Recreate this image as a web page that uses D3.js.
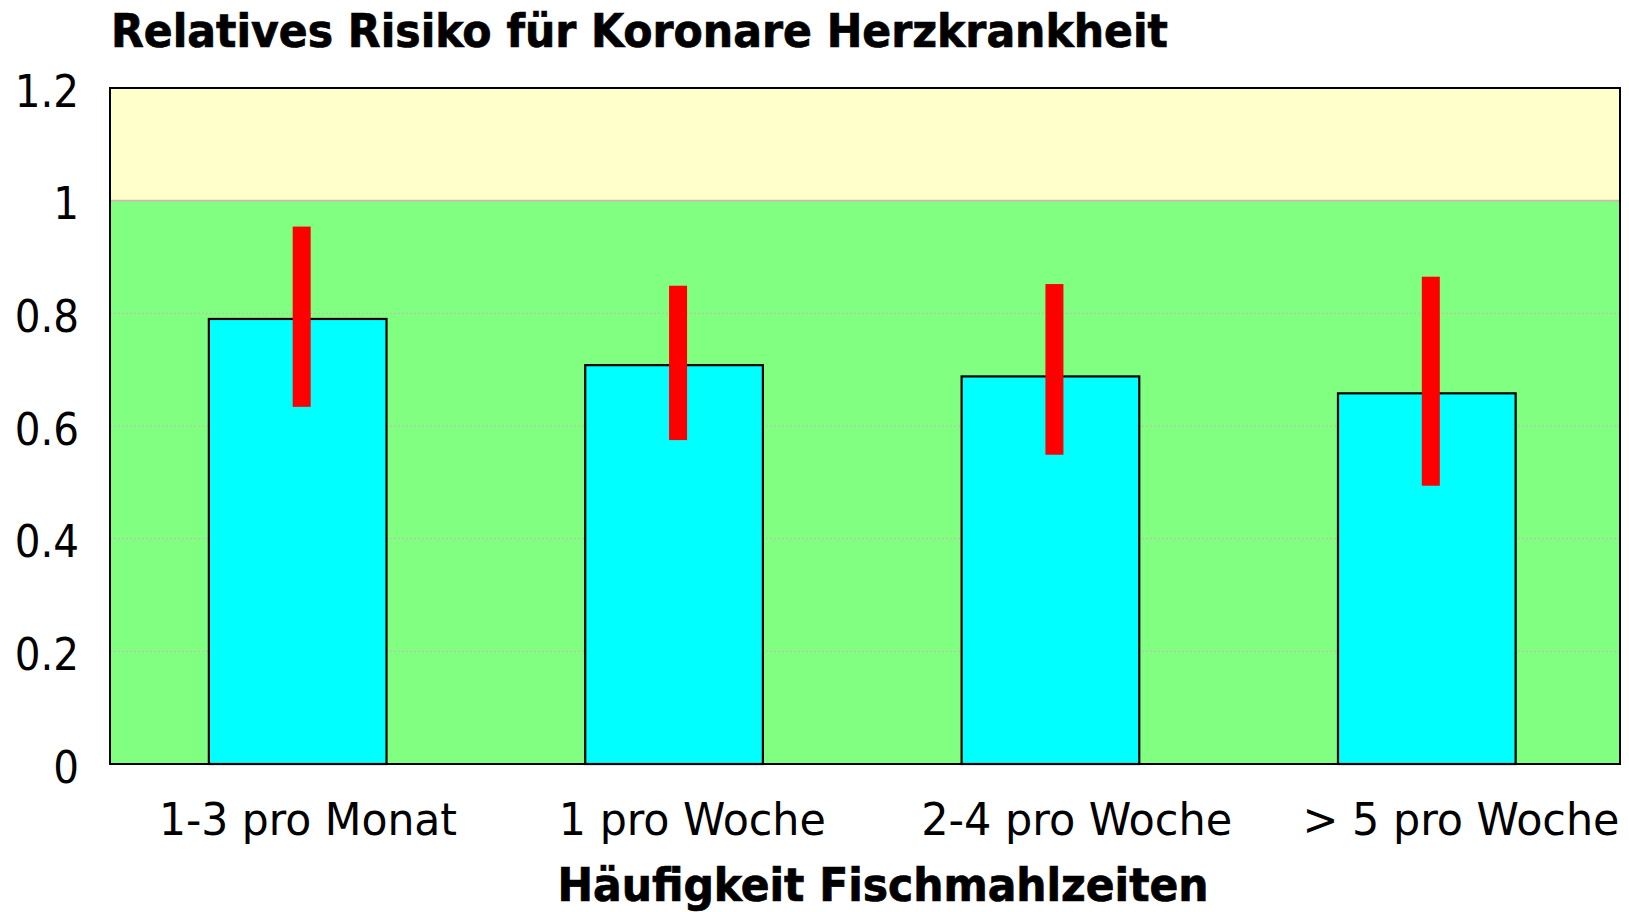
<!DOCTYPE html>
<html>
<head>
    <meta charset='utf-8' />
    <title>Relatives Risiko</title>
    <style>
        html, body {
          margin: 0; padding: 0;
          background: #fff;
        }

        svg text {
          font-family: 'DejaVu Sans Condensed', 'DejaVu Sans', sans-serif;
          fill: #000;
        }

        .bold {
          font-weight: bold;
          stroke: #000;
          stroke-width: 0.7px;
        }

        .grid line {
          stroke: #c9b7b7;
          stroke-width: 1;
          stroke-dasharray: 2,2;
        }
    </style>
</head>
<body>

<div id='chart'></div>

<script src="https://cdnjs.cloudflare.com/ajax/libs/d3/7.8.5/d3.min.js"></script>
<script>
  // data
  const categories = ['1-3 pro Monat', '1 pro Woche', '2-4 pro Woche', '> 5 pro Woche']
  const relRisk = [0.79, 0.708, 0.688, 0.658]
  const ciLow = [0.634, 0.575, 0.549, 0.494]
  const ciHigh = [0.954, 0.849, 0.852, 0.865]
  const yTicks = [0, 0.2, 0.4, 0.6, 0.8, 1, 1.2]

  const rows = categories.map((c, i) => ({
    cat: c, value: relRisk[i], lo: ciLow[i], hi: ciHigh[i]
  }))

  const W = 1629
  const H = 912
  const plot = { left: 110, right: 1620, top: 88, bottom: 764 }

  const svg = d3.select('#chart').append('svg')
    .attr('width', W)
    .attr('height', H)

  const y = d3.scaleLinear()
    .domain([0, 1.2])
    .range([plot.bottom, plot.top])

  const x = d3.scaleBand()
    .domain(categories)
    .range([111, 1613.5])
    .paddingInner(0.528)
    .paddingOuter(0.26)

  // category labels sit a bit off the bar centres in the original
  const xLabel = d3.scalePoint()
    .domain(categories)
    .range([308, 1461])

  // background bands: above 1 = higher risk, below 1 = lower risk
  svg.append('rect')
    .attr('x', plot.left)
    .attr('y', y(1.2))
    .attr('width', plot.right - plot.left)
    .attr('height', y(1) - y(1.2))
    .style('fill', '#ffffcc')

  svg.append('rect')
    .attr('x', plot.left)
    .attr('y', y(1))
    .attr('width', plot.right - plot.left)
    .attr('height', y(0) - y(1))
    .style('fill', '#80ff80')

  // dotted gridlines
  svg.append('g')
    .attr('class', 'grid')
    .selectAll('line')
    .data(yTicks.filter(d => d > 0 && d < 1))
    .enter()
    .append('line')
    .attr('x1', plot.left)
    .attr('x2', plot.right)
    .attr('y1', d => y(d))
    .attr('y2', d => y(d))

  svg.append('line')
    .attr('x1', plot.left)
    .attr('x2', plot.right)
    .attr('y1', y(1))
    .attr('y2', y(1))
    .style('stroke', '#c4c2a4')
    .style('stroke-width', 2)

  // bars
  svg.append('g')
    .selectAll('rect')
    .data(rows)
    .enter()
    .append('rect')
    .attr('x', d => x(d.cat))
    .attr('y', d => y(d.value))
    .attr('width', x.bandwidth())
    .attr('height', d => y(0) - y(d.value))
    .style('fill', '#00ffff')
    .style('stroke', '#000')
    .style('stroke-width', 2.2)

  // confidence intervals
  const errW = 18
  svg.append('g')
    .selectAll('rect')
    .data(rows)
    .enter()
    .append('rect')
    .attr('x', d => x(d.cat) + x.bandwidth() / 2 + 4 - errW / 2)
    .attr('y', d => y(d.hi))
    .attr('width', errW)
    .attr('height', d => y(d.lo) - y(d.hi))
    .style('fill', '#ff0000')

  // plot frame
  svg.append('rect')
    .attr('x', plot.left)
    .attr('y', plot.top)
    .attr('width', plot.right - plot.left)
    .attr('height', plot.bottom - plot.top)
    .style('fill', 'none')
    .style('stroke', '#000')
    .style('stroke-width', 2)

  // y tick labels
  svg.append('g')
    .selectAll('text')
    .data(yTicks)
    .enter()
    .append('text')
    .attr('x', 79)
    .attr('y', d => y(d) + 18.5)
    .attr('text-anchor', 'end')
    .style('font-size', '45px')
    .text(d => String(d))

  // x category labels
  svg.append('g')
    .selectAll('text')
    .data(categories)
    .enter()
    .append('text')
    .attr('x', d => xLabel(d))
    .attr('y', 835)
    .attr('text-anchor', 'middle')
    .style('font-size', '44px')
    .text(d => d)

  // title and axis title
  svg.append('text')
    .attr('class', 'bold')
    .attr('x', 111)
    .attr('y', 47)
    .attr('textLength', 1057)
    .attr('lengthAdjust', 'spacingAndGlyphs')
    .style('font-size', '47px')
    .text('Relatives Risiko für Koronare Herzkrankheit')

  svg.append('text')
    .attr('class', 'bold')
    .attr('x', 883)
    .attr('y', 901)
    .attr('text-anchor', 'middle')
    .attr('textLength', 651)
    .attr('lengthAdjust', 'spacingAndGlyphs')
    .style('font-size', '46px')
    .text('Häufigkeit Fischmahlzeiten')

  // squeeze the regular labels to the narrower width of the original face
  const widths = { '1-3 pro Monat': 298, '1 pro Woche': 267, '2-4 pro Woche': 311, '> 5 pro Woche': 317 }
  svg.selectAll('text').each(function () {
    const t = d3.select(this)
    const w = widths[t.text()]
    if (w) t.attr('textLength', w).attr('lengthAdjust', 'spacingAndGlyphs')
  })
</script>
</body>
</html>
